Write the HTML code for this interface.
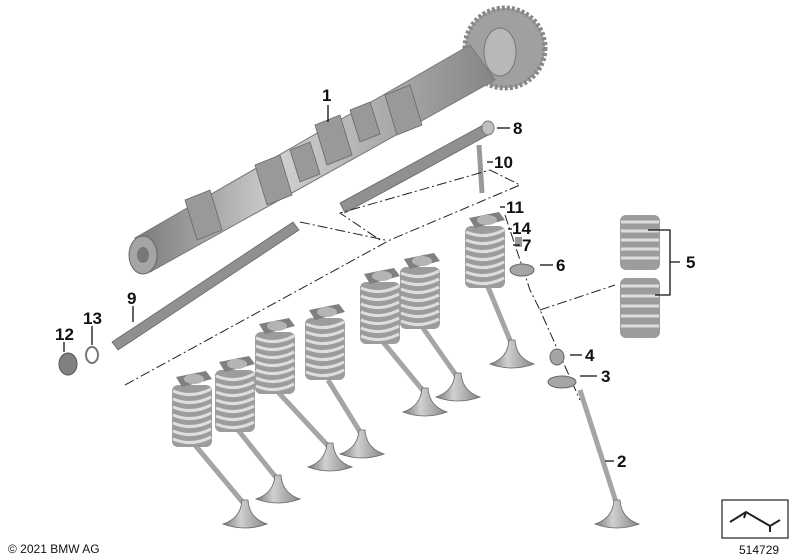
<!DOCTYPE html>
<html><head><meta charset="utf-8"><style>
html,body{margin:0;padding:0;background:#fff;}
svg{display:block;}
text{font-family:"Liberation Sans",Arial,sans-serif;font-weight:bold;font-size:17px;fill:#111;}
.s{font-size:12px;font-weight:normal;}
</style></head><body>
<svg width="800" height="560" viewBox="0 0 800 560" xmlns="http://www.w3.org/2000/svg">
<defs>
<linearGradient id="g1" x1="0" y1="0" x2="1" y2="0">
<stop offset="0" stop-color="#7a7a7a"/><stop offset="0.4" stop-color="#d0d0d0"/><stop offset="1" stop-color="#858585"/></linearGradient>
<g id="spr">
<rect x="-20" y="0" width="40" height="62" rx="6" fill="#9c9c9c"/>
<g fill="none" stroke="#dedede" stroke-width="3">
<path d="M-19 6 Q0 14 19 4"/><path d="M-19 14 Q0 22 19 12"/><path d="M-19 22 Q0 30 19 20"/>
<path d="M-19 30 Q0 38 19 28"/><path d="M-19 38 Q0 46 19 36"/><path d="M-19 46 Q0 54 19 44"/><path d="M-19 54 Q0 62 19 52"/></g>
<path d="M-16 -8 L14 -14 L20 -6 L-10 2 Z" fill="#808080"/>
<ellipse cx="2" cy="-6" rx="10" ry="5" fill="#b4b4b4"/>
</g>
<g id="vh"><path d="M-3 -22 Q-4 -4 -22 2 Q0 10 22 2 Q4 -4 3 -22 Z" fill="url(#g1)" stroke="#666" stroke-width="0.8"/></g>
</defs>

<!-- gear -->
<circle cx="505" cy="48" r="40" fill="#a0a0a0" stroke="#888" stroke-width="5" stroke-dasharray="3 2"/>
<ellipse cx="500" cy="52" rx="16" ry="24" fill="#b8b8b8" stroke="#777"/>
<!-- camshaft -->
<path d="M135 238 L470 45 L495 80 L150 272 Z" fill="url(#g1)" stroke="#777" stroke-width="1"/>
<ellipse cx="143" cy="255" rx="14" ry="19" fill="#a5a5a5" stroke="#666"/>
<ellipse cx="143" cy="255" rx="6" ry="8" fill="#777"/>
<g fill="#999" stroke="#666" stroke-width="0.8">
<path d="M185 200 l25 -10 l12 40 l-25 10z"/><path d="M255 165 l25 -10 l12 40 l-25 10z"/>
<path d="M315 125 l25 -10 l12 40 l-25 10z"/><path d="M385 95 l25 -10 l12 40 l-25 10z"/>
<path d="M290 150 l20 -8 l10 32 l-20 8z"/><path d="M350 110 l20 -8 l10 32 l-20 8z"/>
</g>

<!-- rods -->
<path d="M112 342 L293 222 L299 230 L118 350 Z" fill="#909090" stroke="#666" stroke-width="0.8"/>
<path d="M340 203 L485 124 L490 134 L345 213 Z" fill="#909090" stroke="#666" stroke-width="0.8"/>
<ellipse cx="488" cy="128" rx="6" ry="7" fill="#c0c0c0" stroke="#777"/>
<path d="M479 145 L482 193" stroke="#999" stroke-width="5"/>
<ellipse cx="68" cy="364" rx="9" ry="11" fill="#808080" stroke="#555"/>
<ellipse cx="92" cy="355" rx="6" ry="8" fill="none" stroke="#777" stroke-width="2"/>

<g fill="none" stroke="#222" stroke-width="1" stroke-dasharray="10 3 2 3">
<path d="M125 385 L390 240 L520 185 L490 170 L340 213 L380 240"/>
<path d="M300 222 L385 240"/>
<path d="M505 215 L530 290 L540 310 L580 400"/>
<path d="M540 310 L615 285"/>
</g>

<g stroke="#a5a5a5" stroke-width="5">
<line x1="195" y1="445" x2="245" y2="505"/><line x1="238" y1="430" x2="278" y2="480"/>
<line x1="278" y1="392" x2="330" y2="448"/><line x1="328" y1="380" x2="362" y2="435"/>
<line x1="383" y1="342" x2="425" y2="393"/><line x1="423" y1="328" x2="458" y2="378"/>
<line x1="488" y1="287" x2="512" y2="345"/><line x1="580" y1="390" x2="617" y2="505"/>
</g>
<use href="#vh" x="245" y="522"/><use href="#vh" x="278" y="497"/>
<use href="#vh" x="330" y="465"/><use href="#vh" x="362" y="452"/>
<use href="#vh" x="425" y="410"/><use href="#vh" x="458" y="395"/>
<use href="#vh" x="512" y="362"/><use href="#vh" x="617" y="522"/>

<use href="#spr" x="192" y="385"/><use href="#spr" x="235" y="370"/>
<use href="#spr" x="275" y="332"/><use href="#spr" x="325" y="318"/>
<use href="#spr" x="380" y="282"/><use href="#spr" x="420" y="267"/>
<use href="#spr" x="485" y="226"/>
<rect x="620" y="215" width="40" height="55" rx="6" fill="#9c9c9c"/>
<rect x="620" y="278" width="40" height="60" rx="6" fill="#9c9c9c"/>
<g fill="none" stroke="#dedede" stroke-width="3">
<path d="M621 222 h38 M621 231 h38 M621 240 h38 M621 249 h38 M621 258 h38 M621 286 h38 M621 296 h38 M621 306 h38 M621 316 h38 M621 326 h38"/></g>
<ellipse cx="522" cy="270" rx="12" ry="6" fill="#a5a5a5" stroke="#666"/>
<rect x="515" y="237" width="7" height="10" fill="#999"/>
<ellipse cx="557" cy="357" rx="7" ry="8" fill="#a5a5a5" stroke="#666"/>
<ellipse cx="562" cy="382" rx="14" ry="6" fill="#a5a5a5" stroke="#666"/>

<g stroke="#111" stroke-width="1.3" fill="none">
<line x1="328" y1="105" x2="328" y2="122"/><line x1="497" y1="128" x2="510" y2="128"/>
<line x1="487" y1="162" x2="493" y2="162"/><line x1="505" y1="207" x2="500" y2="207"/>
<line x1="512" y1="229" x2="508" y2="229"/><line x1="513" y1="245" x2="520" y2="245"/>
<line x1="540" y1="265" x2="553" y2="265"/><line x1="133" y1="306" x2="133" y2="322"/>
<line x1="92" y1="326" x2="92" y2="345"/><line x1="64" y1="342" x2="64" y2="352"/>
<line x1="570" y1="355" x2="582" y2="355"/><line x1="580" y1="376" x2="597" y2="376"/>
<line x1="605" y1="461" x2="614" y2="461"/>
<path d="M648 230 L670 230 L670 295 L655 295 M670 262 L680 262"/>
</g>

<text x="322" y="101">1</text><text x="513" y="134">8</text>
<text x="494" y="168">10</text><text x="506" y="213">11</text>
<text x="512" y="234">14</text><text x="522" y="251">7</text>
<text x="556" y="271">6</text><text x="686" y="268">5</text>
<text x="127" y="304">9</text><text x="83" y="324">13</text>
<text x="55" y="340">12</text><text x="585" y="361">4</text>
<text x="601" y="382">3</text><text x="617" y="467">2</text>

<rect x="722" y="500" width="66" height="38" fill="none" stroke="#222" stroke-width="1.2"/>
<path d="M730 522 L746 512 L770 526 L780 520 M770 526 L770 532 M746 512 L744 518" fill="none" stroke="#222" stroke-width="2"/>
<text x="8" y="553" class="s">© 2021 BMW AG</text>
<text x="739" y="554" class="s">514729</text>
</svg>
</body></html>
